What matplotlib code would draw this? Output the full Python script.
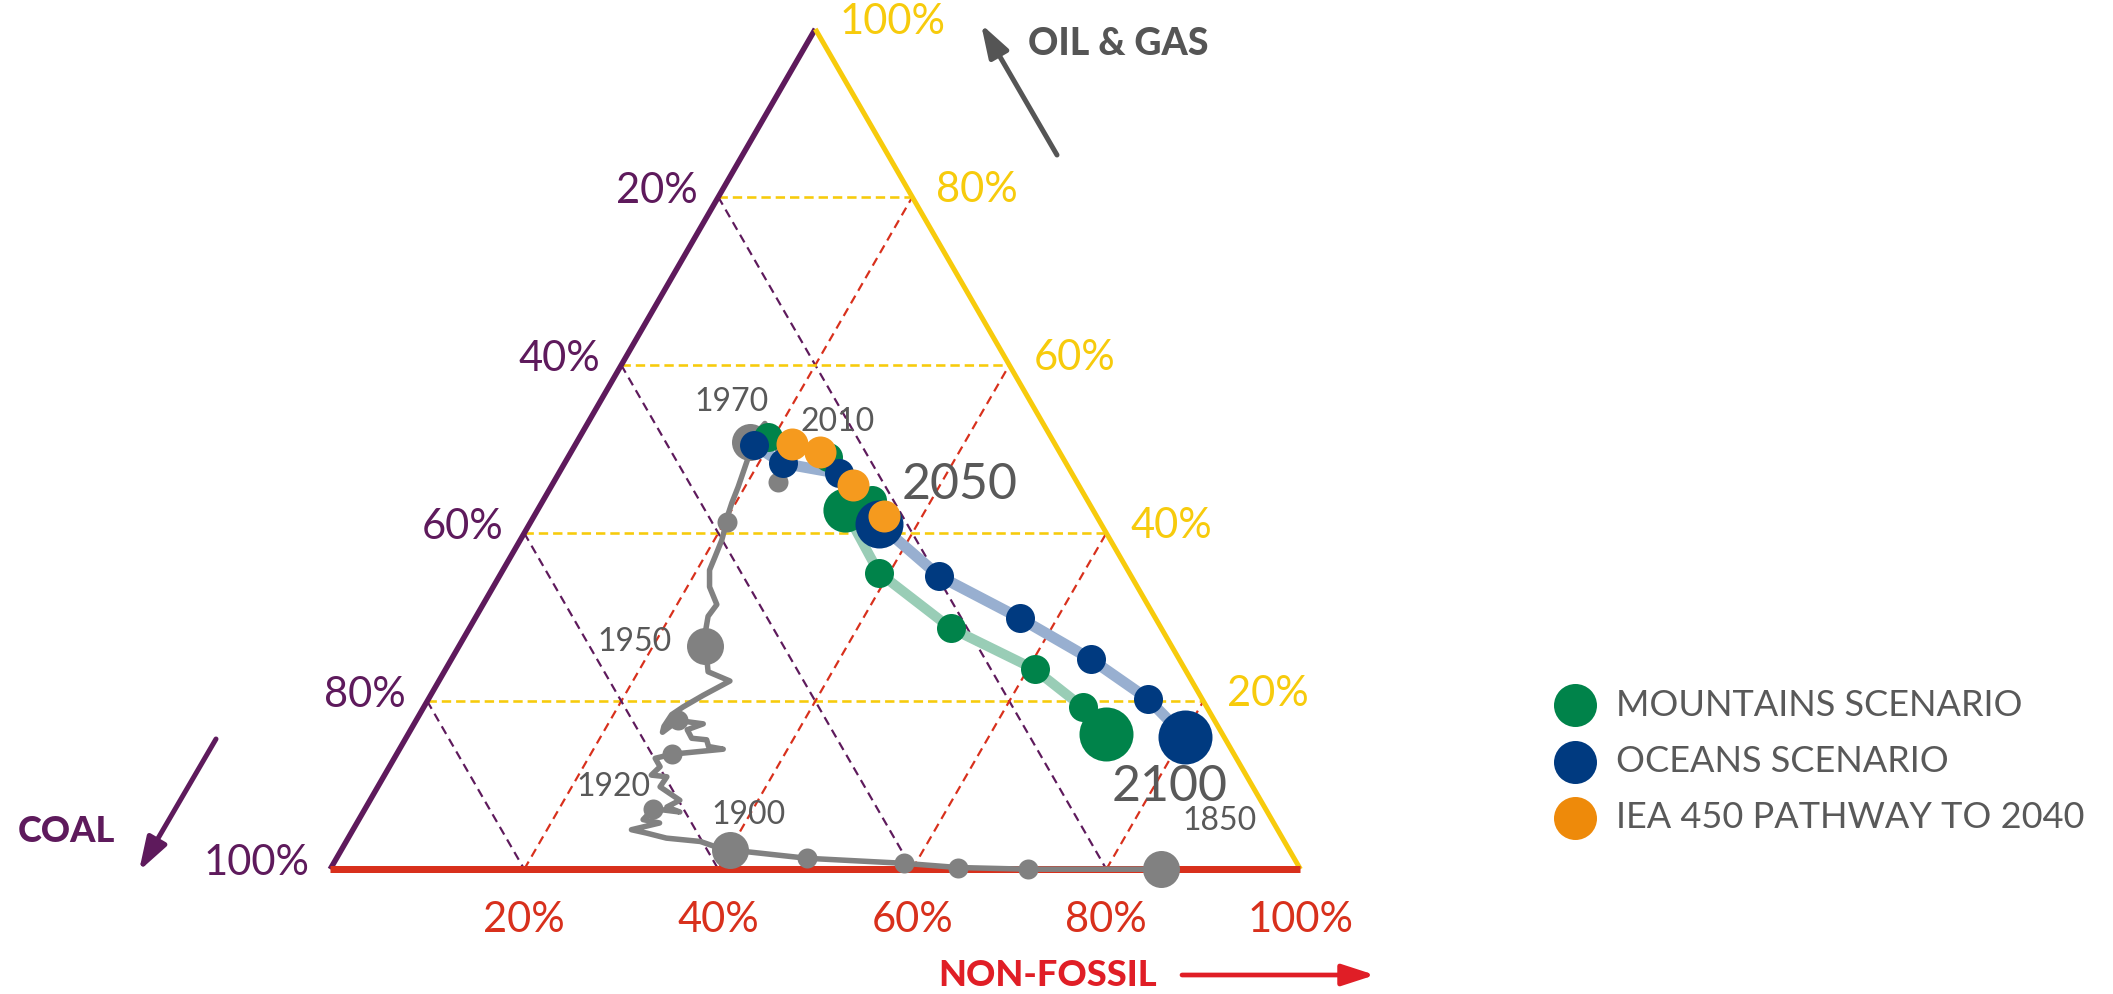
import numpy as np
import matplotlib
matplotlib.use("Agg")
import matplotlib.pyplot as plt
from matplotlib.patches import FancyArrowPatch
from matplotlib.lines import Line2D

# ---------------- data: shares in % (coal, oil & gas, non-fossil) ----------------
# historical world primary energy mix path, 1850 -> 2014
hist_coal = [14.4, 28.1, 35.2, 40.5, 50.2, 57.7, 59.0, 60.2, 63.5, 65.3, 66.6, 63.3, 64.8, 63.1,
             60.5, 61.6, 59.8, 61.1, 59.8, 61.3, 59.9, 59.9, 58.0, 52.4, 53.7, 53.5, 55.0, 54.9,
             52.9, 55.3, 57.6, 57.1, 55.6, 53.9, 51.2, 47.6, 49.3, 48.8, 48.1, 47.3, 46.0, 44.4,
             44.1, 43.1, 41.8, 40.1, 38.5, 37.9, 36.8, 35.2, 32.4, 31.3, 28.7, 29.0, 30.8]
hist_oilgas = [0.0, 0.0, 0.2, 0.7, 1.3, 2.3, 2.7, 3.3, 3.7, 4.3, 4.7, 5.5, 5.9, 7.2,
               6.8, 7.4, 8.2, 9.8, 11.0, 11.2, 12.2, 13.2, 13.7, 14.3, 14.6, 15.4, 15.6, 16.6,
               17.3, 17.7, 16.3, 17.0, 18.4, 19.3, 20.7, 22.4, 23.5, 24.7, 26.6, 28.1, 30.1, 31.5,
               33.6, 35.6, 37.2, 39.2, 41.3, 42.2, 43.6, 45.5, 49.1, 50.9, 53.1, 48.9, 46.1]
hist_nonfossil = [85.6, 71.9, 64.6, 58.8, 48.5, 40.1, 38.3, 36.5, 32.8, 30.5, 28.7, 31.2, 29.3, 29.7,
                  32.6, 31.0, 31.9, 29.1, 29.2, 27.5, 27.9, 26.9, 28.4, 33.4, 31.7, 31.1, 29.5, 28.5,
                  29.8, 27.0, 26.1, 25.9, 26.0, 26.7, 28.1, 30.0, 27.2, 26.5, 25.3, 24.6, 23.9, 24.1,
                  22.3, 21.3, 21.1, 20.8, 20.2, 19.9, 19.6, 19.3, 18.6, 17.8, 18.3, 22.1, 23.1]

# decade markers on the historical path
hist_dot_years = [1850, 1860, 1870, 1880, 1890, 1900, 1920, 1930, 1940, 1950, 1960, 1970, 2014]
hist_dot_coal = [14.4, 28.1, 35.2, 40.5, 50.2, 57.7, 63.1, 58.0, 55.3, 48.1, 38.5, 31.3, 30.8]
hist_dot_oilgas = [0.0, 0.0, 0.2, 0.7, 1.3, 2.3, 7.2, 13.7, 17.7, 26.6, 41.3, 50.9, 46.1]
hist_dot_nonfossil = [85.6, 71.9, 64.6, 58.8, 48.5, 40.1, 29.7, 28.4, 27.0, 25.3, 20.2, 17.8, 23.1]
hist_big_years = [1850, 1900, 1950, 1970]

scen_years = [2020, 2030, 2040, 2050, 2060, 2070, 2080, 2090, 2100]
mount_coal = [29.2, 24.1, 22.2, 25.6, 25.8, 21.7, 15.5, 12.8, 12.0]
mount_oilgas = [51.4, 49.1, 43.9, 42.8, 35.3, 28.7, 23.8, 19.3, 16.1]
mount_nonfossil = [19.4, 26.8, 33.8, 31.7, 38.9, 49.6, 60.7, 67.9, 72.0]

ocean_coal = [31.1, 29.2, 24.0, 22.9, 19.8, 14.0, 9.1, 5.6, 4.0]
ocean_oilgas = [50.5, 48.3, 47.1, 41.1, 34.9, 29.9, 25.0, 20.3, 15.7]
ocean_nonfossil = [18.4, 22.5, 28.9, 36.0, 45.3, 56.1, 65.9, 74.1, 80.3]

iea_years = [2013, 2020, 2030, 2040]
iea_coal = [27.1, 24.7, 23.3, 21.9]
iea_oilgas = [50.6, 49.6, 45.7, 42.0]
iea_nonfossil = [22.3, 25.7, 31.0, 36.1]

tick_values = [20, 40, 60, 80, 100]
tick_labels = ["20%", "40%", "60%", "80%", "100%"]
legend_labels = ["MOUNTAINS SCENARIO", "OCEANS SCENARIO", "IEA 450 PATHWAY TO 2040"]
axis_titles = ["OIL & GAS", "COAL", "NON-FOSSIL"]

# ---------------- styling ----------------
plt.rcParams['font.family'] = ['Lato', 'DejaVu Sans']
PURPLE = '#5E1A5C'
YELLOW = '#F7CB0C'
RED = '#D8301C'
RED_T = '#E01E26'
GRAY = '#818181'
TXT = '#595959'
GREEN = '#00834A'
BLUE = '#003A80'
ORANGE = '#F59A1E'
ORANGE_LEG = '#EE8A0A'
LBLUE = '#98AFD0'
LGREEN = '#99CDB6'

W, H, DPI = 2113, 994, 100
PX = 72.0 / DPI  # points per pixel

fig = plt.figure(figsize=(W / DPI, H / DPI), dpi=DPI)
ax = fig.add_axes([0, 0, 1, 1])
ax.set_xlim(-0.34034, 1.83756)
ax.set_ylim(-0.12863, 0.89590)
ax.axis('off')

S3 = np.sqrt(3) / 2


def tern(c, g, n):
    c = np.asarray(c, float); g = np.asarray(g, float); n = np.asarray(n, float)
    s = c + g + n
    g = g / s; n = n / s
    return n + g / 2.0, g * S3


# ---- grid lines ----
for v in tick_values[:-1]:
    k = v / 100.0
    # constant oil & gas (horizontal, yellow)
    x, y = tern([1 - k, 0], [k, k], [0, 1 - k])
    ax.plot(x, y, color=YELLOW, lw=2.6 * PX, dashes=(3.6, 1.9), zorder=1)
    # constant coal (purple)
    x, y = tern([k, k], [1 - k, 0], [0, 1 - k])
    ax.plot(x, y, color=PURPLE, lw=2.2 * PX, dashes=(4.0, 2.6), zorder=1)
    # constant non-fossil (red)
    x, y = tern([1 - k, 0], [0, 1 - k], [k, k])
    ax.plot(x, y, color=RED, lw=2.2 * PX, dashes=(4.0, 2.6), zorder=1)

# ---- edges ----
x, y = tern([100, 0], [0, 100], [0, 0])
ax.plot(x, y, color=PURPLE, lw=5.5 * PX, solid_capstyle='butt', zorder=2)
x, y = tern([0, 0], [100, 0], [0, 100])
ax.plot(x, y, color=YELLOW, lw=5 * PX, solid_capstyle='butt', zorder=2)
x, y = tern([100, 0], [0, 0], [0, 100])
ax.plot(x, y, color=RED, lw=7 * PX, solid_capstyle='butt', zorder=2)

# ---- tick labels ----
for v, lab in zip(tick_values, tick_labels):
    k = v / 100.0
    # coal on left edge
    x, y = tern(k, 1 - k, 0)
    ax.annotate(lab, (x, y), xytext=(-21 * PX, 6 * PX), textcoords='offset points',
                ha='right', va='center', fontsize=30, color=PURPLE, zorder=8)
    # oil & gas on right edge
    x, y = tern(0, k, 1 - k)
    ax.annotate(lab, (x, y), xytext=(24 * PX, 7 * PX), textcoords='offset points',
                ha='left', va='center', fontsize=30, color=YELLOW, zorder=8)
    # non-fossil on bottom
    x, y = tern(1 - k, 0, k)
    ax.annotate(lab, (x, y), xytext=(0, -51 * PX), textcoords='offset points',
                ha='center', va='center', fontsize=30, color=RED, zorder=8)

# ---- historical path ----
hx, hy = tern(hist_coal, hist_oilgas, hist_nonfossil)
ax.plot(hx, hy, color=GRAY, lw=5.5 * PX, solid_joinstyle='round', solid_capstyle='round', zorder=3)
dx, dy = tern(hist_dot_coal, hist_dot_oilgas, hist_dot_nonfossil)
for yr, xx, yy in zip(hist_dot_years, dx, dy):
    ms = 37 * PX if yr in hist_big_years else 20 * PX
    ax.plot([xx], [yy], 'o', ms=ms, color=GRAY, mec='none', zorder=4)

# ---- scenarios ----
mx, my = tern(mount_coal, mount_oilgas, mount_nonfossil)
ox, oy = tern(ocean_coal, ocean_oilgas, ocean_nonfossil)
ix, iy = tern(iea_coal, iea_oilgas, iea_nonfossil)
ax.plot(mx, my, color=LGREEN, lw=10 * PX, solid_joinstyle='round', solid_capstyle='round', zorder=3)
ax.plot(ox, oy, color=LBLUE, lw=11 * PX, solid_joinstyle='round', solid_capstyle='round', zorder=3)


def scen_size(yr):
    if yr == 2100:
        return 54 * PX
    if yr == 2050:
        return 48 * PX
    return 29 * PX


for yr, xx, yy in zip(scen_years, mx, my):
    ax.plot([xx], [yy], 'o', ms=scen_size(yr) * (0.92 if yr == 2050 else 1.0), color=GREEN, mec='none', zorder=5)
for yr, xx, yy in zip(scen_years, ox, oy):
    ax.plot([xx], [yy], 'o', ms=scen_size(yr), color=BLUE, mec='none', zorder=6)
for yr, xx, yy in zip(iea_years, ix, iy):
    ax.plot([xx], [yy], 'o', ms=32 * PX, color=ORANGE, mec='none', zorder=7)

# ---- year labels ----
small_lab = dict(fontsize=23, color=TXT, ha='center', va='center', textcoords='offset points', zorder=9)
big_lab = dict(fontsize=36, color=TXT, ha='center', va='center', textcoords='offset points', zorder=9)
hd = dict(zip(hist_dot_years, zip(dx, dy)))
ax.annotate('1970', hd[1970], xytext=(-18 * PX, 40 * PX), **small_lab)
ax.annotate('1950', hd[1950], xytext=(-70 * PX, 4 * PX), **small_lab)
ax.annotate('1920', hd[1920], xytext=(-40 * PX, 22 * PX), **small_lab)
ax.annotate('1900', hd[1900], xytext=(18 * PX, 35 * PX), **small_lab)
ax.annotate('1850', hd[1850], xytext=(59 * PX, 48 * PX), **small_lab)
ax.annotate('2010', (ix[0], iy[0]), xytext=(46 * PX, 22 * PX), **small_lab)
ax.annotate('2050', (ox[3], oy[3]), xytext=(81 * PX, 39 * PX), **big_lab)
ax.annotate('2100', (ox[-1], oy[-1]), xytext=(-16 * PX, -50 * PX), **big_lab)

# ---- axis titles and arrows ----
fig.text(1118 / W, 1 - 44 / H, axis_titles[0], fontsize=27, fontweight='black', color='#555555',
         ha='center', va='center')
fig.text(66 / W, 1 - 832 / H, axis_titles[1], fontsize=26, fontweight='black', color=PURPLE,
         ha='center', va='center')
fig.text(1048 / W, 1 - 975 / H, axis_titles[2], fontsize=26, fontweight='black', color=RED_T,
         ha='center', va='center')


def arrow(p0, p1, color, lw):
    a = FancyArrowPatch((p0[0] / W, 1 - p0[1] / H), (p1[0] / W, 1 - p1[1] / H),
                        transform=fig.transFigure, color=color, lw=lw * PX,
                        arrowstyle='-|>,head_length=20,head_width=6.5', mutation_scale=1,
                        shrinkA=0, shrinkB=0)
    fig.patches.append(a)


arrow((1057, 155), (981, 24), '#555555', 5)
arrow((216, 739), (139, 871), PURPLE, 5)
arrow((1182, 975), (1375, 975), RED_T, 4.7)

# ---- legend ----
leg_colors = [GREEN, BLUE, ORANGE_LEG]
leg_y = [705, 762, 818]
for lab, col, yy in zip(legend_labels, leg_colors, leg_y):
    fig.add_artist(Line2D([1575 / W], [1 - yy / H], marker='o', ms=43 * PX, color=col, mec='none',
                          transform=fig.transFigure))
    fig.text(1616 / W, 1 - yy / H, lab, fontsize=26, color=TXT, ha='left', va='center')

fig.savefig('out.png', dpi=DPI)
